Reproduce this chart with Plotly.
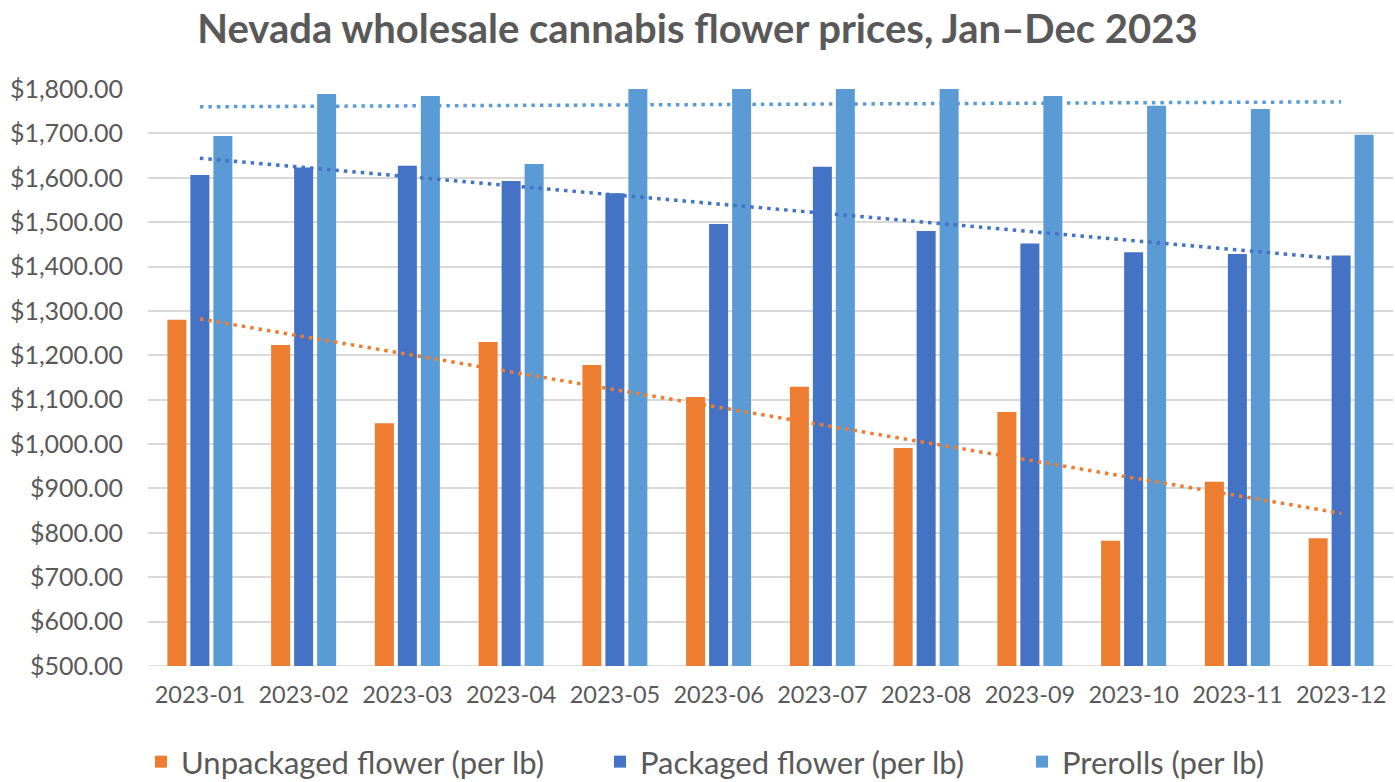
import plotly.graph_objects as go

months = ["2023-01", "2023-02", "2023-03", "2023-04", "2023-05", "2023-06",
          "2023-07", "2023-08", "2023-09", "2023-10", "2023-11", "2023-12"]
unpackaged = [1280, 1223, 1047, 1230, 1178, 1106, 1129, 991, 1072, 782, 915, 788]
packaged = [1606, 1623, 1627, 1593, 1565, 1496, 1625, 1480, 1452, 1432, 1428, 1425]
# May–Aug prerolls run past the $1,800 axis maximum (clipped in the chart)
prerolls = [1694, 1789, 1784, 1631, 1840, 1830, 1850, 1820, 1784, 1762, 1755, 1697]

# Linear trend lines: value at first and last month
trend_unpackaged = [1282, 844]
trend_packaged = [1644, 1417]
trend_prerolls = [1760, 1771]

names = ["Unpackaged flower (per lb)", "Packaged flower (per lb)", "Prerolls (per lb)"]
colors = ["#ED7D31", "#4472C4", "#5B9BD5"]

TEXT = "#595959"
FONT = "Lato"

fig = go.Figure()
series = [unpackaged, packaged, prerolls]
legends = ["legend", "legend2", "legend3"]
for vals, name, col, lg in zip(series, names, colors, legends):
    fig.add_trace(go.Bar(x=months, y=vals, name=name, marker_color=col,
                         marker_line_width=0, legend=lg))

for tr, col in zip([trend_unpackaged, trend_packaged, trend_prerolls], colors):
    fig.add_trace(go.Scatter(x=[months[0], months[-1]], y=tr, mode="lines",
                             line=dict(color=col, width=3.5, dash="3.5px,5px"),
                             showlegend=False, hoverinfo="skip"))

leg_common = dict(orientation="h", xref="container", yref="container",
                  yanchor="middle", bgcolor="rgba(0,0,0,0)",
                  font=dict(family=FONT, size=31, color=TEXT))
LEG_Y = 1 - 762 / 782

fig.update_layout(
    width=1395, height=782,
    paper_bgcolor="white", plot_bgcolor="white",
    margin=dict(l=148, r=2, t=89, b=116),
    barmode="group", bargap=0.335, bargroupgap=0.174,
    title=dict(text="<b>Nevada wholesale cannabis flower prices, Jan–Dec 2023</b>",
               x=0.5, xref="container", xanchor="center",
               y=1 - 29 / 782, yref="container", yanchor="middle",
               font=dict(family=FONT, size=40, color=TEXT)),
    font=dict(family=FONT, color=TEXT),
    xaxis=dict(type="category",
               tickfont=dict(family=FONT, size=23.5, color=TEXT),
               showgrid=False, showline=False, ticks="",
               ticklabelstandoff=12),
    yaxis=dict(range=[500, 1800], dtick=100, tick0=500,
               tickformat="$,.2f",
               tickfont=dict(family=FONT, size=25, color=TEXT),
               gridcolor="#D9D9D9", gridwidth=1.5,
               zeroline=False, showline=False, ticks="",
               ticklabelstandoff=24),
    legend=dict(x=(155 - 14) / 1395, y=LEG_Y, xanchor="left", **leg_common),
    legend2=dict(x=(614 - 14) / 1395, y=LEG_Y, xanchor="left", **leg_common),
    legend3=dict(x=(1036 - 14) / 1395, y=LEG_Y, xanchor="left", **leg_common),
)

# baseline at $500
fig.add_shape(type="line", xref="paper", yref="y", x0=0, x1=1, y0=500, y1=500,
              line=dict(color="#D9D9D9", width=1.5), layer="below")

fig.write_html("out.html", config={"displayModeBar": False},
               post_script="document.body.style.margin='0';")
